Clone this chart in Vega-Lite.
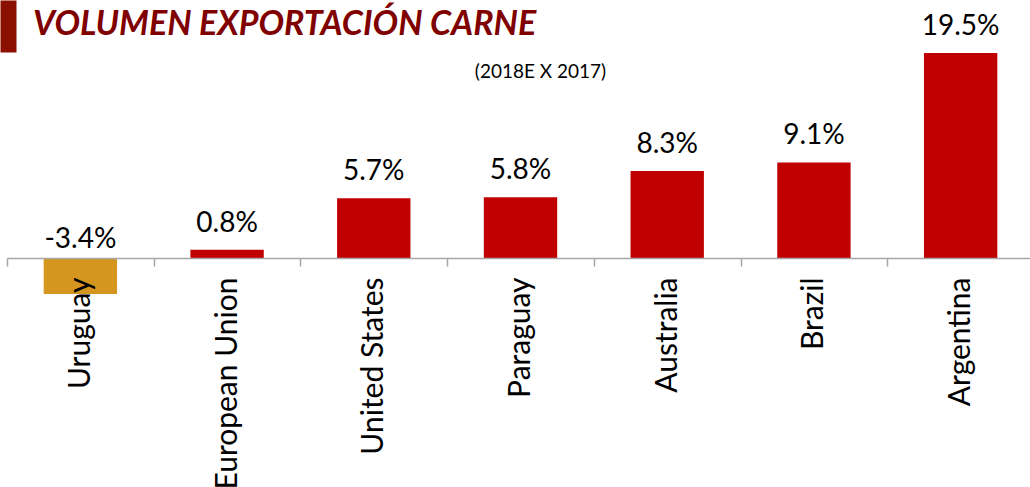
{
  "$schema": "https://vega.github.io/schema/vega-lite/v6.json",
  "autosize": "none",
  "width": 1027,
  "height": 295,
  "padding": {"left": 7, "top": 0, "right": 0, "bottom": 192},
  "background": "white",
  "config": {"view": {"stroke": null}, "font": "Lato"},
  "title": {
    "text": "VOLUMEN EXPORTACIÓN CARNE",
    "anchor": "start",
    "frame": "group",
    "orient": "top",
    "baseline": "alphabetic",
    "offset": 0,
    "dx": 26,
    "dy": 69,
    "font": "Lato",
    "fontSize": 34,
    "fontWeight": "bold",
    "fontStyle": "italic",
    "color": "#800000"
  },
  "data": {
    "values": [
      {"country": "Uruguay", "value": -3.4, "label": "-3.4%"},
      {"country": "European Union", "value": 0.8, "label": "0.8%"},
      {"country": "United States", "value": 5.7, "label": "5.7%"},
      {"country": "Paraguay", "value": 5.8, "label": "5.8%"},
      {"country": "Australia", "value": 8.3, "label": "8.3%"},
      {"country": "Brazil", "value": 9.1, "label": "9.1%"},
      {"country": "Argentina", "value": 19.5, "label": "19.5%"}
    ]
  },
  "encoding": {
    "x": {
      "field": "country",
      "type": "nominal",
      "sort": null,
      "scale": {"paddingInner": 0, "paddingOuter": 0},
      "axis": {
        "title": null,
        "orient": "bottom",
        "offset": -37,
        "zindex": 1,
        "domainColor": "#A6A6A6",
        "domainWidth": 1.5,
        "tickColor": "#A6A6A6",
        "tickWidth": 1.5,
        "tickSize": 8,
        "tickBand": "extent",
        "labelAngle": -90,
        "labelAlign": "right",
        "labelBaseline": "middle",
        "labelPadding": 11,
        "labelFontSize": 30,
        "labelFont": "Lato",
        "labelColor": "#000000",
        "labelLimit": 400
      }
    }
  },
  "layer": [
    {
      "mark": {"type": "bar", "width": {"band": 0.5}},
      "encoding": {
        "y": {
          "field": "value",
          "type": "quantitative",
          "scale": {"domain": [-3.5, 24.55], "nice": false, "zero": false},
          "axis": {
            "orient": "left",
            "values": [22.07],
            "domain": false,
            "labels": false,
            "grid": false,
            "offset": -9,
            "tickSize": 16,
            "tickWidth": 52,
            "tickColor": "#8B1000",
            "title": "(2018E X 2017)",
            "titleAngle": 0,
            "titleX": 524,
            "titleY": 71,
            "titleAlign": "center",
            "titleBaseline": "middle",
            "titleFont": "Lato",
            "titleFontSize": 19,
            "titleFontWeight": "normal",
            "titleColor": "#000000"
          }
        },
        "color": {
          "condition": {"test": "datum.value < 0", "value": "#D4961E"},
          "value": "#C00000"
        }
      }
    },
    {
      "transform": [{"filter": "datum.value >= 0"}],
      "mark": {"type": "text", "baseline": "alphabetic", "dy": -18, "fontSize": 28, "font": "Lato", "color": "#000000"},
      "encoding": {
        "y": {"field": "value", "type": "quantitative"},
        "text": {"field": "label"}
      }
    },
    {
      "transform": [{"filter": "datum.value < 0"}],
      "mark": {"type": "text", "baseline": "alphabetic", "dy": -10, "fontSize": 28, "font": "Lato", "color": "#000000"},
      "encoding": {
        "y": {"datum": 0, "type": "quantitative"},
        "text": {"field": "label"}
      }
    }
  ]
}
